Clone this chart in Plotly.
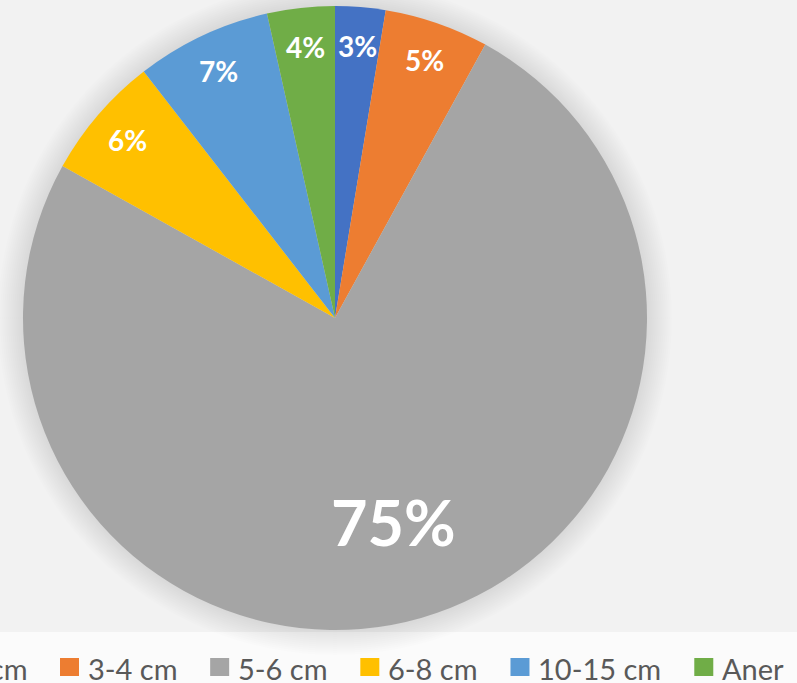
import math
import plotly.graph_objects as go

# ---- data ----
categories = ["2-3 cm", "3-4 cm", "5-6 cm", "6-8 cm", "10-15 cm", "Aner"]
values = [2.6, 5.4, 75.1, 6.4, 7.0, 3.5]
colors = ["#4472C4", "#ED7D31", "#A5A5A5", "#FFC000", "#5B9BD5", "#70AD47"]

# ---- layout constants ----
W, H = 797, 683
CX, CY, R = 335, 318, 312          # pie centre / radius in pixels
FONT = "Lato, 'Open Sans', sans-serif"

fig = go.Figure()
fig.add_trace(go.Pie(
    labels=categories, values=values, sort=False, direction="clockwise",
    rotation=0, marker=dict(colors=colors, line=dict(width=0)),
    textinfo="none", hoverinfo="label+percent", showlegend=False,
    domain=dict(x=[(CX - R) / W, (CX + R) / W],
                y=[(H - CY - R) / H, (H - CY + R) / H]),
))

shapes = []
# bottom legend strip
shapes.append(dict(type="rect", xref="paper", yref="paper", x0=0, x1=1,
                   y0=0, y1=(H - 632) / H, fillcolor="#FBFBFB",
                   line=dict(width=0), layer="below"))
# soft shadow around the pie
for i in range(13):
    rr = R + 1 + i * 2.0
    shapes.append(dict(type="circle", xref="paper", yref="paper",
                       xsizemode="pixel", ysizemode="pixel",
                       xanchor=CX / W, yanchor=(H - CY) / H,
                       x0=-rr, x1=rr, y0=-rr, y1=rr,
                       fillcolor="rgba(0,0,0,0.008)", line=dict(width=0),
                       layer="below"))

annotations = []
# percentage labels
total = sum(values)
cum = 0.0
for v in values:
    share = v / total
    mid = (cum + share / 2) * 2 * math.pi
    cum += share
    big = share > 0.5
    f = 0.68 if big else 0.875
    px = CX + f * R * math.sin(mid)
    py = CY - f * R * math.cos(mid)
    annotations.append(dict(
        x=px / W, y=1 - py / H, xref="paper", yref="paper",
        text=f"<b>{round(share * 100)}%</b>", showarrow=False,
        font=dict(family=FONT, size=63 if big else 28, color="white"),
        xanchor="center", yanchor="middle"))

# custom legend (cut at both sides like the reference)
cw = {"0": .58, "1": .58, "2": .58, "3": .58, "4": .58, "5": .58, "6": .58,
      "7": .58, "8": .58, "9": .58, "-": .36, " ": .19, "c": .47, "m": .86,
      "A": .68, "n": .57, "e": .54, "r": .37}
LF = 29
def tw(s):
    return sum(cw.get(ch, .55) for ch in s) * LF

MK, GAP_T, GAP_I = 19, 7, 36
x = 60 - GAP_I - tw(categories[0]) - GAP_T - MK
LY = 667
for cat, col in zip(categories, colors):
    shapes.append(dict(type="rect", xref="paper", yref="paper",
                       x0=x / W, x1=(x + MK) / W,
                       y0=(H - LY - 9) / H, y1=(H - LY + 9) / H,
                       fillcolor=col, line=dict(width=0)))
    annotations.append(dict(
        x=(x + MK + GAP_T) / W, y=(H - LY - 1) / H, xref="paper", yref="paper",
        text=cat, showarrow=False, xanchor="left", yanchor="middle",
        font=dict(family=FONT, size=LF, color="#595959")))
    x += MK + GAP_T + tw(cat) + GAP_I

fig.update_layout(
    width=W, height=H, margin=dict(l=0, r=0, t=0, b=0),
    paper_bgcolor="#F2F2F2", plot_bgcolor="#F2F2F2",
    shapes=shapes, annotations=annotations, showlegend=False,
)

fig.write_html(
    "out.html",
    config={"displayModeBar": False},
    post_script="document.body.style.margin='0';"
                "document.body.style.overflow='hidden';",
)
